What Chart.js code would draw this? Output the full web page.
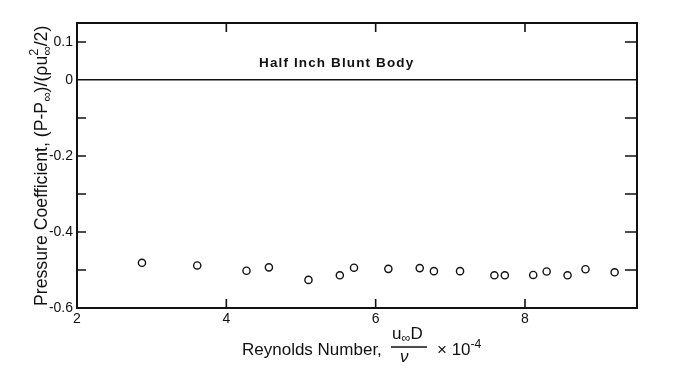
<!DOCTYPE html>
<html>
<head>
<meta charset="utf-8">
<script src="https://cdn.jsdelivr.net/npm/chart.js@4.4.1/dist/chart.umd.min.js"></script>
<style>
    body { margin: 0; background: #ffffff; }
    #wrap { width: 676px; height: 373px; position: relative; }
</style>
</head>
<body>
<div id="wrap"><canvas id="chart"></canvas></div>
<script>
// Reynolds number (x 10^-4) and pressure coefficient
const reynolds = [2.87, 3.61, 4.27, 4.57, 5.10, 5.52, 5.71, 6.17, 6.59, 6.78, 7.13, 7.59, 7.73, 8.11, 8.29, 8.57, 8.81, 9.20];
const pressure = [-0.481, -0.488, -0.502, -0.493, -0.526, -0.514, -0.494, -0.497, -0.495, -0.503, -0.503, -0.514, -0.514, -0.513, -0.504, -0.514, -0.498, -0.506];

const xTicks = [2, 4, 6, 8];
const yTicks = [0.1, 0, -0.1, -0.2, -0.3, -0.4, -0.5, -0.6];
const yLabels = ['0.1', '0', '', '-0.2', '', '-0.4', '', '-0.6'];
const plotTitle = 'Half Inch Blunt Body';

const FONT = '"Liberation Sans", Arial, sans-serif';
const INK = '#111111';

// draw a list of text runs: [text, sizeFactor, yShift, stackOnPrevious]
const drawRuns = (ctx, runs, size, x0, y0) => {
    let x = x0;
    let prevStart = x0;
    let prevEnd = x0;
    runs.forEach(run => {
        const [text, k, dy, stack] = run;
        ctx.font = `${(size * k).toFixed(1)}px ${FONT}`;
        const start = stack ? prevStart : x;
        ctx.fillText(text, start, y0 + dy);
        const end = start + ctx.measureText(text).width;
        x = stack ? Math.max(prevEnd, end) : end;
        prevStart = start;
        prevEnd = x;
    });
};

const framePlugin = {
    id: 'frame',
    afterDraw(chart) {
        const ctx = chart.ctx;
        const area = chart.chartArea;
        const xs = chart.scales.x;
        const ys = chart.scales.y;
        ctx.save();
        ctx.strokeStyle = INK;
        ctx.lineWidth = 1.6;

        // inward tick marks
        ctx.beginPath();
        yTicks.forEach(v => {
            if (v === 0 || v === -0.6) return;
            const py = ys.getPixelForValue(v);
            ctx.moveTo(area.left, py);
            ctx.lineTo(area.left + 9, py);
            ctx.moveTo(area.right, py);
            ctx.lineTo(area.right - 12, py);
        });
        xTicks.forEach(v => {
            if (v === 2) return;
            const px = xs.getPixelForValue(v);
            ctx.moveTo(px, area.top);
            ctx.lineTo(px, area.top + 9);
            ctx.moveTo(px, area.bottom);
            ctx.lineTo(px, area.bottom - 9);
        });
        ctx.stroke();

        ctx.fillStyle = INK;

        // title inside the plot
        ctx.font = `bold 13.5px ${FONT}`;
        ctx.textAlign = 'center';
        ctx.textBaseline = 'alphabetic';
        ctx.fillText(plotTitle.split('').join(String.fromCharCode(8202)), xs.getPixelForValue(5.47), ys.getPixelForValue(0.035));

        // x axis title with fraction
        ctx.textAlign = 'left';
        drawRuns(ctx, [['Reynolds Number,', 1, 0, false]], 17, 242, 355);
        drawRuns(ctx, [['u', 1, 0, false], ['\u221E', 0.75, 3, false], ['D', 1, 0, false]], 17, 392, 339);
        ctx.beginPath();
        ctx.lineWidth = 1.3;
        ctx.moveTo(391, 347);
        ctx.lineTo(427, 347);
        ctx.stroke();
        ctx.font = `italic 17px ${FONT}`;
        ctx.fillText('\u03BD', 400, 362);
        drawRuns(ctx, [['\u00D7 10', 1, 0, false], ['-4', 0.72, -7, false]], 17, 437, 355);

        // y axis title, rotated
        ctx.translate(47, 306);
        ctx.rotate(-Math.PI / 2);
        drawRuns(ctx, [
            ['Pressure Coefficient, (P-P', 1, 0, false],
            ['\u221E', 0.75, 4, false],
            [')/(\u03C1u', 1, 0, false],
            ['\u221E', 0.75, 4, false],
            ['2', 0.72, -9, true],
            ['/2)', 1, 0, false]
        ], 17.7, 0, 0);
        ctx.restore();
    }
};

const fixedSize = (size) => (scale) => {
    if (scale.isHorizontal()) scale.height = size;
    else scale.width = size;
};

new Chart(document.getElementById('chart'), {
    type: 'scatter',
    data: {
        datasets: [{
            data: reynolds.map((r, i) => ({ x: r, y: pressure[i] })),
            pointStyle: 'circle',
            pointRadius: 3.6,
            pointBorderWidth: 1.4,
            pointBorderColor: INK,
            pointBackgroundColor: '#ffffff'
        }]
    },
    options: {
        responsive: true,
        maintainAspectRatio: false,
        animation: false,
        layout: { padding: { top: 23, right: 39, left: 0, bottom: 0 } },
        plugins: {
            legend: { display: false },
            tooltip: { enabled: false }
        },
        scales: {
            x: {
                type: 'linear',
                min: 2,
                max: 9.5,
                afterBuildTicks: scale => { scale.ticks = xTicks.map(v => ({ value: v })); },
                afterFit: fixedSize(65),
                grid: { display: false, drawTicks: false },
                border: { display: true, color: INK, width: 2 },
                ticks: { color: INK, padding: 3, font: { size: 14, family: FONT }, maxRotation: 0 }
            },
            y: {
                type: 'linear',
                min: -0.6,
                max: 0.15,
                afterBuildTicks: scale => { scale.ticks = yTicks.map(v => ({ value: v })); },
                afterFit: fixedSize(77),
                grid: {
                    drawTicks: false,
                    lineWidth: 1.6,
                    color: c => (c.tick && c.tick.value === 0 ? INK : 'rgba(0,0,0,0)')
                },
                border: { display: true, color: INK, width: 2 },
                ticks: {
                    color: INK,
                    padding: 4,
                    font: { size: 14, family: FONT },
                    callback: (v, i) => yLabels[i]
                }
            },
            x2: {
                type: 'linear',
                position: 'top',
                min: 2,
                max: 9.5,
                afterFit: fixedSize(0),
                grid: { display: false },
                ticks: { display: false },
                border: { display: true, color: INK, width: 2 }
            },
            y2: {
                type: 'linear',
                position: 'right',
                min: -0.6,
                max: 0.15,
                afterFit: fixedSize(0),
                grid: { display: false },
                ticks: { display: false },
                border: { display: true, color: INK, width: 2 }
            }
        }
    },
    plugins: [framePlugin]
});
</script>
</body>
</html>
